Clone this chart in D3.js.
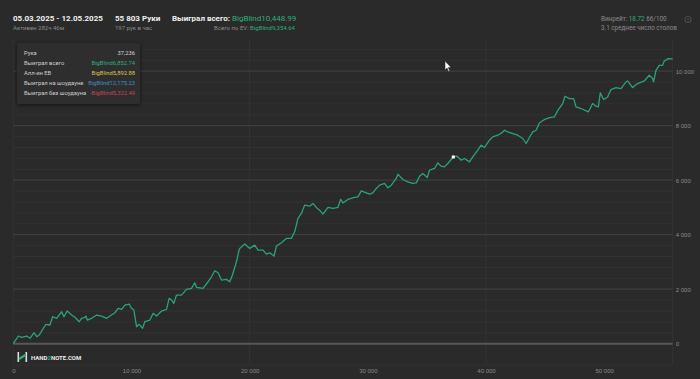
<!DOCTYPE html>
<html><head><meta charset="utf-8">
<script src="https://cdn.jsdelivr.net/npm/d3@7"></script>
<style>
html,body{margin:0;padding:0;background:#2a2a2a;overflow:hidden}
svg{display:block;font-family:Roboto,"Noto Sans",sans-serif}
</style></head><body>
<svg id="c" width="700" height="379"></svg>
<script>
// ---- data ----
const hands = [0,423,710,1133,1412,1750,1978,2198,2536,2764,3102,3330,3669,4091,4286,4565,4937,5216,5579,5782,6061,6145,6255,6627,7050,7472,7895,8174,8597,8876,9163,9442,9805,10008,10203,10431,10651,10938,11133,11555,11834,12122,12544,12967,13187,13390,13584,13812,14235,14657,15080,15359,15503,16061,16483,16771,17050,17329,17616,18039,18318,18546,18884,19104,19163,19586,20008,20431,20710,21133,21420,21699,22062,22265,22688,23111,23533,23812,24091,24378,24657,25080,25359,25646,25925,26204,26627,27050,27472,27700,27895,28318,28884,29163,29450,29873,30152,30431,30718,30997,31420,31699,31986,32409,32544,32967,33389,33812,34099,34378,34657,35030,35224,35646,35925,36213,36492,36771,37236,37565,37904,38182,38605,38884,39306,39594,39873,40295,40574,40997,41335,41563,41842,42265,42688,43110,43398,43677,43956,44243,44522,44945,45367,45790,46128,46492,46694,47058,47421,47624,48047,48664,49027,49315,49509,49678,49957,50295,50582,51005,51428,51850,51986,52409,52831,53397,53820,54099,54184,54387,54666,54945,55089,55427,55803];
const winnings = [0,282,235,282,198,403,257,319,565,711,686,990,931,1173,990,1199,1052,968,807,931,968,1015,869,931,1052,1015,931,1015,1136,1298,1261,1419,1455,1298,1235,623,711,565,807,869,1114,1015,1199,1261,1664,1602,1481,1785,1785,1994,2031,2236,2068,2031,2273,2456,2676,2603,2335,2361,2273,2519,3006,3435,3497,3655,3497,3618,3435,3435,3288,3336,3215,3582,3703,3864,3864,4106,4597,4781,5085,5048,5147,5000,4901,4755,5000,4964,5000,5294,5169,5294,5367,5389,5609,5536,5488,5536,5697,5818,5880,5719,5818,6064,6221,6027,5939,5880,5902,6148,6247,6100,6368,6430,6635,6514,6489,6613,6852.74,6881,6734,6797,6672,6855,7101,7284,7200,7468,7589,7651,7735,7834,7772,7713,7651,7530,7347,7567,7772,7834,8102,8226,8300,8322,8593,8813,9081,8996,8996,8688,8630,8505,8813,8714,8688,9202,8960,9055,9326,9400,9363,9605,9642,9400,9546,9642,9851,9730,9605,10034,10217,10217,10375,10463,10448.99];
const xTicks = [0,10000,20000,30000,40000,50000];
const yTicks = [0,2000,4000,6000,8000,10000];
const tipLabels = ["Рука","Выиграл всего","Алл-ин EB","Выиграл на шоудауне","Выиграл без шоудауна"];
const tipValues = ["37,236","BigBlind6,852.74","BigBlind5,892.88","BigBlind12,175.23","-BigBlind5,322.49"];
const tipColors = ["#d0d0d0","#2fae7a","#d6c84a","#3f8fcf","#c8425e"];
const markerHand = 37236, markerValue = 6852.74;

// ---- layout ----
const svg = d3.select("#c");
const W=700,H=379;
svg.append("rect").attr("width",W).attr("height",H).attr("fill","#2a2a2a");
const x = d3.scaleLinear().domain([0,55803]).range([13.3,672.7]);
const y = d3.scaleLinear().domain([0,10000]).range([343.7,71.2]);
const plotTop = 40, plotBottom = 365;

// minor grid
const minor = d3.range(400,11000,400).filter(v=>v%2000!==0 && y(v)>plotTop);
svg.append("g").selectAll("line").data(minor).join("line")
  .attr("x1",x(0)).attr("x2",x(55803)).attr("y1",d=>y(d)).attr("y2",d=>y(d))
  .attr("stroke","#323232").attr("stroke-width",1);
// vertical grid
svg.append("g").selectAll("line").data([0,20000,40000,55803]).join("line")
  .attr("x1",d=>x(d)).attr("x2",d=>x(d)).attr("y1",plotTop).attr("y2",plotBottom)
  .attr("stroke","#333").attr("stroke-width",1);
svg.append("line").attr("x1",x(0)).attr("x2",x(55803)).attr("y1",plotBottom).attr("y2",plotBottom).attr("stroke","#303030");
// major grid
svg.append("g").selectAll("line").data(yTicks.filter(d=>d>0)).join("line")
  .attr("x1",x(0)).attr("x2",x(55803)).attr("y1",d=>y(d)).attr("y2",d=>y(d))
  .attr("stroke","#3e3e3e").attr("stroke-width",1.2);
// zero line
svg.append("line").attr("x1",x(0)).attr("x2",x(55803)).attr("y1",y(0)).attr("y2",y(0))
  .attr("stroke","#575757").attr("stroke-width",2);

// axes
const fmt = d=>d3.format(",")(d).replace(/,/g," ");
const yAxis = d3.axisRight(y).tickValues(yTicks).tickSize(0).tickPadding(3).tickFormat(fmt);
svg.append("g").attr("transform",`translate(${x(55803)},0)`).call(yAxis)
  .call(g=>g.select(".domain").remove())
  .selectAll("text").attr("fill","#8a8a8a").attr("font-size",6);
const xAxis = d3.axisBottom(x).tickValues(xTicks).tickSize(0).tickPadding(4).tickFormat(fmt);
svg.append("g").attr("transform",`translate(0,${plotBottom})`).call(xAxis)
  .call(g=>g.select(".domain").remove())
  .selectAll("text").attr("fill","#8a8a8a").attr("font-size",6);

// line
const line = d3.line().x((d,i)=>x(hands[i])).y((d,i)=>y(winnings[i])).curve(d3.curveLinear);
svg.append("path").datum(winnings).attr("d",line).attr("fill","none")
  .attr("stroke","#27a574").attr("stroke-width",1.3).attr("stroke-linejoin","round");
// marker
svg.append("rect").attr("x",x(markerHand)-1.5).attr("y",y(markerValue)-1.5).attr("width",3).attr("height",3).attr("fill","#fff");

// header
const hdr = svg.append("g");
const t = (xx,yy,txt,size,col,weight,anchor)=>hdr.append("text").attr("x",xx).attr("y",yy).text(txt)
  .attr("font-size",size).attr("fill",col).attr("font-weight",weight||400).attr("text-anchor",anchor||"start");
t(13,21,"05.03.2025 - 12.05.2025",8,"#f0f0f0",700);
t(13,30,"Активен 282ч 46м",6,"#8a8a8a");
t(115,21,"55 803 Руки",8,"#f0f0f0",700);
t(115,30,"197 рук в час",6,"#8a8a8a");
const w1 = hdr.append("text").attr("x",172).attr("y",21).attr("font-size",8);
w1.append("tspan").text("Выиграл всего: ").attr("fill","#f0f0f0").attr("font-weight",700);
w1.append("tspan").text("BigBlind10,448.99").attr("fill","#2fae7a");
const w2 = hdr.append("text").attr("x",295).attr("y",30).attr("font-size",6).attr("text-anchor","end");
w2.append("tspan").text("Всего по EV: ").attr("fill","#8a8a8a");
w2.append("tspan").text("BigBlind9,354.64").attr("fill","#2fae7a");
const w3 = hdr.append("text").attr("x",601).attr("y",20.5).attr("font-size",6.3);
w3.append("tspan").text("Винрейт: ").attr("fill","#8a8a8a");
w3.append("tspan").text("18.72").attr("fill","#2fae7a");
w3.append("tspan").text(" 66/100").attr("fill","#8a8a8a");
t(601,29.5,"3.1 среднее число столов",6.3,"#8a8a8a");
// gear
svg.append("circle").attr("cx",688).attr("cy",19.5).attr("r",3).attr("fill","none").attr("stroke","#4a4a4a").attr("stroke-width",1.2);
svg.append("circle").attr("cx",688).attr("cy",19.5).attr("r",1).attr("fill","#4a4a4a");

// tooltip
const tip = svg.append("g");
const defs = svg.append("defs");
const f = defs.append("filter").attr("id","sh").attr("x","-20%").attr("y","-20%").attr("width","140%").attr("height","150%");
f.append("feDropShadow").attr("dx",0).attr("dy",1).attr("stdDeviation",2).attr("flood-color","#000").attr("flood-opacity",0.6);
tip.append("rect").attr("x",17).attr("y",43).attr("width",123).attr("height",61).attr("rx",2)
  .attr("fill","#2e2e2e").attr("filter","url(#sh)");
tip.selectAll("text.l").data(tipLabels).join("text").attr("class","l")
  .attr("x",24).attr("y",(d,i)=>55+i*10).text(d=>d).attr("font-size",5.8).attr("fill","#cfcfcf");
tip.selectAll("text.v").data(tipValues).join("text").attr("class","v")
  .attr("x",135).attr("y",(d,i)=>55+i*10).attr("text-anchor","end").text(d=>d)
  .attr("font-size",5.8).attr("fill",(d,i)=>tipColors[i]);

// logo
const lg = svg.append("g");
lg.append("rect").attr("x",17.5).attr("y",352).attr("width",1.6).attr("height",10).attr("fill","#ddd");
lg.append("rect").attr("x",25.5).attr("y",352).attr("width",1.6).attr("height",10).attr("fill","#ddd");
lg.append("path").attr("d","M19 359 L25.5 355").attr("stroke","#2fae7a").attr("stroke-width",2.2);
const lt = lg.append("text").attr("x",31).attr("y",360).attr("font-size",6).attr("font-weight",700);
lt.append("tspan").text("HAND").attr("fill","#e8e8e8");
lt.append("tspan").text("2").attr("fill","#2fae7a");
lt.append("tspan").text("NOTE.COM").attr("fill","#e8e8e8");

// cursor
svg.append("path").attr("d","M445 61 L445 70 L447 68 L448.6 71.4 L449.8 70.9 L448.3 67.6 L451 67.4 Z")
  .attr("fill","#fff").attr("stroke","#222").attr("stroke-width",0.5);
</script>
</body></html>
